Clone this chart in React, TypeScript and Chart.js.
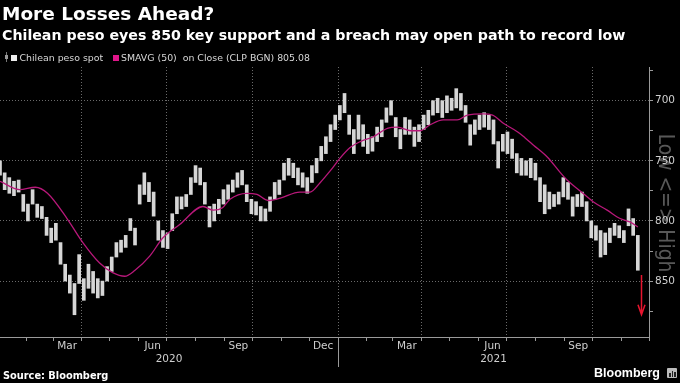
import React, { useEffect, useRef } from "react";
import { Chart, registerables } from "chart.js";

Chart.register(...registerables);

const titleText = "More Losses Ahead?";
const subtitleText =
  "Chilean peso eyes 850 key support and a breach may open path to record low";
const spotLabel = "Chilean peso spot";
const smaLabel = "SMAVG (50)  on Close (CLP BGN) 805.08";
const sourceText = "Source: Bloomberg";
const brandText = "Bloomberg";
const axisNote = "Low <=> High";

// Spot range bars: one bar per 5 calendar days, starting 2020-01-04
const spotFirstDate = "2020-01-04";
const spotStepDays = 5;
const spotLow = [
  750, 760, 764, 767, 766, 778, 786, 774, 786, 788,
  797, 806, 802, 818, 836, 845, 852, 828, 848, 836,
  842, 848, 850, 838, 830, 818, 816, 812, 798, 806,
  770, 760, 768, 776, 800, 808, 810, 794, 780, 780,
  778, 764, 754, 756, 768, 788, 786, 782, 774, 770,
  766, 760, 758, 770, 782, 784, 788, 790, 780, 768,
  766, 752, 748, 752, 756, 760, 764, 754, 748, 738,
  730, 720, 712, 704, 694, 712, 724, 712, 720, 728,
  730, 722, 716, 706, 700, 714, 724, 714, 716, 722,
  720, 712, 708, 700, 698, 700, 696, 698, 690, 694,
  704, 720, 716, 712, 710, 712, 716, 734, 728, 726,
  732, 744, 748, 750, 748, 752, 764, 770, 776, 778,
  776, 764, 768, 780, 778, 776, 784, 800, 804, 808,
  810, 806, 802, 804, 808, 790, 798, 812,
];
const spotHigh = [
  762, 774, 777, 779, 776, 792, 800, 786, 797, 798,
  812, 818, 816, 836, 850, 860, 878, 852, 866, 856,
  860, 864, 862, 850, 842, 830, 826, 822, 808, 820,
  786, 778, 784, 796, 816, 822, 823, 808, 794, 790,
  788, 778, 768, 770, 786, 805, 800, 794, 786, 782,
  776, 772, 770, 784, 794, 795, 800, 800, 792, 782,
  778, 766, 762, 764, 770, 772, 777, 768, 760, 750,
  744, 734, 724, 716, 710, 728, 744, 732, 738, 744,
  742, 734, 730, 718, 712, 730, 740, 728, 728, 738,
  734, 724, 720, 712, 710, 714, 710, 708, 706, 708,
  718, 737, 728, 724, 722, 724, 736, 756, 742, 744,
  748, 760, 762, 762, 764, 766, 784, 794, 790, 788,
  786, 780, 782, 796, 788, 788, 800, 814, 816, 830,
  828, 818, 812, 814, 818, 804, 812, 841,
];

// 50-day moving average, day = days after 2020-01-01
const smaDay = [
  3, 24, 41, 54, 75, 92, 110, 124, 137, 148, 164, 178, 196, 221, 232, 242,
  250, 268, 279, 291, 304, 325, 336, 347, 358, 368, 379, 390, 404, 419, 430,
  444, 454, 465, 479, 494, 505, 522, 532, 544, 559, 567, 576, 591, 605, 612,
  626, 640, 655, 669, 680, 688,
];
const smaValue = [
  767, 774, 772, 777, 798, 818, 835, 843, 846, 841, 829, 814, 803, 788, 791,
  789, 782, 777, 778, 783, 781, 776, 776, 768, 758, 748, 739, 734, 730, 723,
  722, 725, 725, 720, 716, 716, 712, 711, 712, 719, 726, 731, 737, 747, 760,
  766, 775, 784, 791, 798, 801, 805.08,
];

const yTickValues = [675, 700, 725, 750, 775, 800, 825, 850, 875];
const yLabelEvery = 50;
const yMin = 672;
const yMax = 896.5;
const xMinDate = "2020-01-04";
const xMaxDate = "2021-12-01";

const monthTickDates = [
  "2020-02-01", "2020-03-01", "2020-04-01", "2020-05-01", "2020-06-01",
  "2020-07-01", "2020-08-01", "2020-09-01", "2020-10-01", "2020-11-01",
  "2020-12-01", "2021-01-01", "2021-02-01", "2021-03-01", "2021-04-01",
  "2021-05-01", "2021-06-01", "2021-07-01", "2021-08-01", "2021-09-01",
  "2021-10-01", "2021-11-01", "2021-12-01",
];
const monthLabelDates = [
  "2020-03-16", "2020-06-16", "2020-09-16", "2020-12-16",
  "2021-03-16", "2021-06-16", "2021-09-16",
];
const monthLabelText = ["Mar", "Jun", "Sep", "Dec", "Mar", "Jun", "Sep"];
const yearLabelText = ["2020", "2021"];
const yearStartDates = ["2020-01-01", "2021-01-01", "2022-01-01"];

const arrowDate = "2021-11-22";
const arrowFrom = 845;
const arrowTo = 878;

const dayOf = (s: string) =>
  (Date.parse(s + "T00:00:00Z") - Date.parse("2020-01-01T00:00:00Z")) / 864e5;

const FONT = "'DejaVu Sans', sans-serif";

export default function App() {
  const ref = useRef<HTMLCanvasElement | null>(null);

  useEffect(() => {
    const canvas = ref.current;
    if (!canvas) return;
    const xMin = dayOf(xMinDate);
    const xMax = dayOf(xMaxDate);
    const spotStart = dayOf(spotFirstDate);

    const bars = spotLow.map((lo, i) => ({
      x: spotStart + i * spotStepDays,
      y: [lo, spotHigh[i]],
    }));
    const sma = smaDay.map((d, i) => ({ x: d, y: smaValue[i] }));

    type TickMeta = { value: number; kind: string; label: any; quarter: boolean };
    const meta: TickMeta[] = [];
    monthTickDates.forEach((d) => {
      const m = parseInt(d.slice(5, 7), 10);
      meta.push({ value: dayOf(d), kind: "m", label: "", quarter: (m - 1) % 3 === 0 });
    });
    monthLabelDates.forEach((d, i) => {
      meta.push({ value: dayOf(d), kind: "l", label: monthLabelText[i], quarter: false });
    });
    yearLabelText.forEach((t, i) => {
      const a = Math.max(xMin, dayOf(yearStartDates[i]));
      const b = Math.min(xMax, dayOf(yearStartDates[i + 1]));
      meta.push({ value: (a + b) / 2, kind: "y", label: ["", t], quarter: false });
    });
    meta.sort((a, b) => a.value - b.value);

    const gridColor = "#6a6a6a";
    const axisColor = "#9a9a9a";

    const extras = {
      id: "extras",
      beforeDraw(chart: any) {
        const { ctx } = chart;
        ctx.save();
        ctx.translate(665, 203);
        ctx.rotate(Math.PI / 2);
        ctx.scale(0.85, 1);
        ctx.font = "22px " + FONT;
        ctx.fillStyle = "#585858";
        ctx.textAlign = "center";
        ctx.textBaseline = "middle";
        ctx.fillText(axisNote, 0, 0);
        ctx.restore();
      },
      afterDraw(chart: any) {
        const { ctx, scales, chartArea } = chart;
        const xs = scales.x;
        const ys = scales.y;
        // year separator
        const xb = Math.round(xs.getPixelForValue(dayOf("2021-01-01"))) + 0.5;
        ctx.save();
        ctx.strokeStyle = axisColor;
        ctx.lineWidth = 1;
        ctx.beginPath();
        ctx.moveTo(xb, chartArea.bottom);
        ctx.lineTo(xb, chartArea.bottom + 30);
        ctx.stroke();
        // red arrow
        const ax = Math.round(xs.getPixelForValue(dayOf(arrowDate))) + 0.5;
        const y1 = ys.getPixelForValue(arrowFrom);
        const y2 = ys.getPixelForValue(arrowTo);
        ctx.strokeStyle = "#e8142e";
        ctx.lineWidth = 1.5;
        ctx.beginPath();
        ctx.moveTo(ax, y1);
        ctx.lineTo(ax, y2);
        ctx.moveTo(ax - 3.5, y2 - 10);
        ctx.lineTo(ax, y2);
        ctx.lineTo(ax + 3.5, y2 - 10);
        ctx.stroke();
        ctx.restore();
      },
    };

    const chart = new Chart(canvas, {
      type: "bar",
      data: {
        datasets: [
          {
            type: "line",
            label: smaLabel,
            data: sma as any,
            borderColor: "#b8187a",
            borderWidth: 1.3,
            pointRadius: 0,
            tension: 0.4,
            cubicInterpolationMode: "monotone",
            order: 1,
          } as any,
          {
            type: "bar",
            label: spotLabel,
            data: bars as any,
            backgroundColor: "#d6d6d6",
            borderWidth: 0,
            barThickness: 3,
            order: 2,
          } as any,
        ],
      },
      plugins: [extras],
      options: {
        responsive: false,
        animation: false,
        devicePixelRatio: 1,
        events: [],
        layout: { padding: { top: 67, left: 0, right: 0, bottom: 0 } },
        plugins: {
          legend: { display: false },
          tooltip: { enabled: false },
          title: { display: false },
        },
        scales: {
          x: {
            type: "linear",
            position: "bottom",
            min: xMin,
            max: xMax,
            offset: false,
            afterBuildTicks: (scale: any) => {
              scale.ticks = meta.map((m) => ({ value: m.value }));
            },
            afterFit: (scale: any) => {
              scale.height = 46;
            },
            ticks: {
              autoSkip: false,
              maxRotation: 0,
              minRotation: 0,
              padding: -1,
              color: "#cfcfcf",
              font: { family: FONT, size: 10.5, lineHeight: 1.2 },
              callback: (_v: any, i: number) => (meta[i] ? meta[i].label : ""),
            },
            grid: {
              offset: false,
              lineWidth: 1,
              color: (c: any) => {
                const m = meta[c.index];
                return m && m.kind === "m" && m.quarter ? gridColor : "rgba(0,0,0,0)";
              },
              tickColor: (c: any) => {
                const m = meta[c.index];
                return m && m.kind === "m" ? axisColor : "rgba(0,0,0,0)";
              },
              tickLength: 4,
              drawTicks: true,
            },
            border: { display: true, color: axisColor, width: 1, dash: [1, 2] },
          },
          y: {
            type: "linear",
            position: "right",
            reverse: true,
            min: yMin,
            max: yMax,
            afterBuildTicks: (scale: any) => {
              scale.ticks = yTickValues.map((v) => ({ value: v }));
            },
            afterFit: (scale: any) => {
              scale.width = 31;
            },
            ticks: {
              padding: 2,
              color: "#cfcfcf",
              font: { family: FONT, size: 10.5 },
              callback: (v: any) => (Number(v) % yLabelEvery === 0 ? String(v) : ""),
            },
            grid: {
              lineWidth: 1,
              color: (c: any) =>
                c.tick && c.tick.value % yLabelEvery === 0 ? gridColor : "rgba(0,0,0,0)",
              tickColor: axisColor,
              tickLength: 4,
              drawTicks: true,
            },
            border: { display: true, color: axisColor, width: 1, dash: [1, 2] },
          },
        },
      } as any,
    });
    return () => chart.destroy();
  }, []);

  const abs = (s: React.CSSProperties): React.CSSProperties => ({
    position: "absolute",
    whiteSpace: "nowrap",
    margin: 0,
    ...s,
  });

  return (
    <div
      style={{
        position: "fixed",
        left: 0,
        top: 0,
        width: 680,
        height: 383,
        background: "#000",
        overflow: "hidden",
        fontFamily: FONT,
      }}
    >
      <canvas
        ref={ref}
        width={680}
        height={383}
        style={{ position: "absolute", left: 0, top: 0, width: 680, height: 383 }}
      />
      <div
        style={abs({
          left: 2,
          top: 5,
          fontSize: 18.5,
          lineHeight: "18.5px",
          fontWeight: 700,
          color: "#fff",
        })}
      >
        {titleText}
      </div>
      <div
        style={abs({
          left: 2,
          top: 27.5,
          fontSize: 14.2,
          lineHeight: "14.2px",
          fontWeight: 700,
          color: "#fff",
        })}
      >
        {subtitleText}
      </div>
      <div style={abs({ left: 6, top: 52, width: 1, height: 10, background: "#777" })} />
      <div style={abs({ left: 5, top: 55, width: 3, height: 4, background: "#999" })} />
      <div style={abs({ left: 11, top: 55, width: 6, height: 6, background: "#eeeeee" })} />
      <div
        style={abs({
          left: 19.5,
          top: 53,
          fontSize: 9.4,
          lineHeight: "9.4px",
          color: "#d8d8d8",
        })}
      >
        {spotLabel}
      </div>
      <div style={abs({ left: 113, top: 55, width: 6, height: 6, background: "#e0168a" })} />
      <div
        style={abs({
          left: 121,
          top: 53,
          fontSize: 9.4,
          lineHeight: "9.4px",
          color: "#d8d8d8",
          whiteSpace: "pre",
        })}
      >
        {smaLabel}
      </div>
      <div
        style={abs({
          left: 3,
          top: 370.7,
          fontSize: 9.8,
          lineHeight: "9.8px",
          fontWeight: 700,
          color: "#fff",
        })}
      >
        {sourceText}
      </div>
      <div
        style={abs({
          left: 594,
          top: 367,
          fontSize: 12.5,
          lineHeight: "12.5px",
          fontWeight: 700,
          color: "#fff",
          fontFamily: "'Liberation Sans', Arial, sans-serif",
        })}
      >
        {brandText}
      </div>
      <div style={abs({ left: 667, top: 368, width: 10, height: 10, background: "#bbb", borderRadius: 1 })} />
      <div style={abs({ left: 669, top: 373, width: 1.5, height: 4, background: "#222" })} />
      <div style={abs({ left: 671.5, top: 371, width: 1.5, height: 6, background: "#222" })} />
      <div style={abs({ left: 674, top: 372, width: 1.5, height: 5, background: "#222" })} />
    </div>
  );
}
